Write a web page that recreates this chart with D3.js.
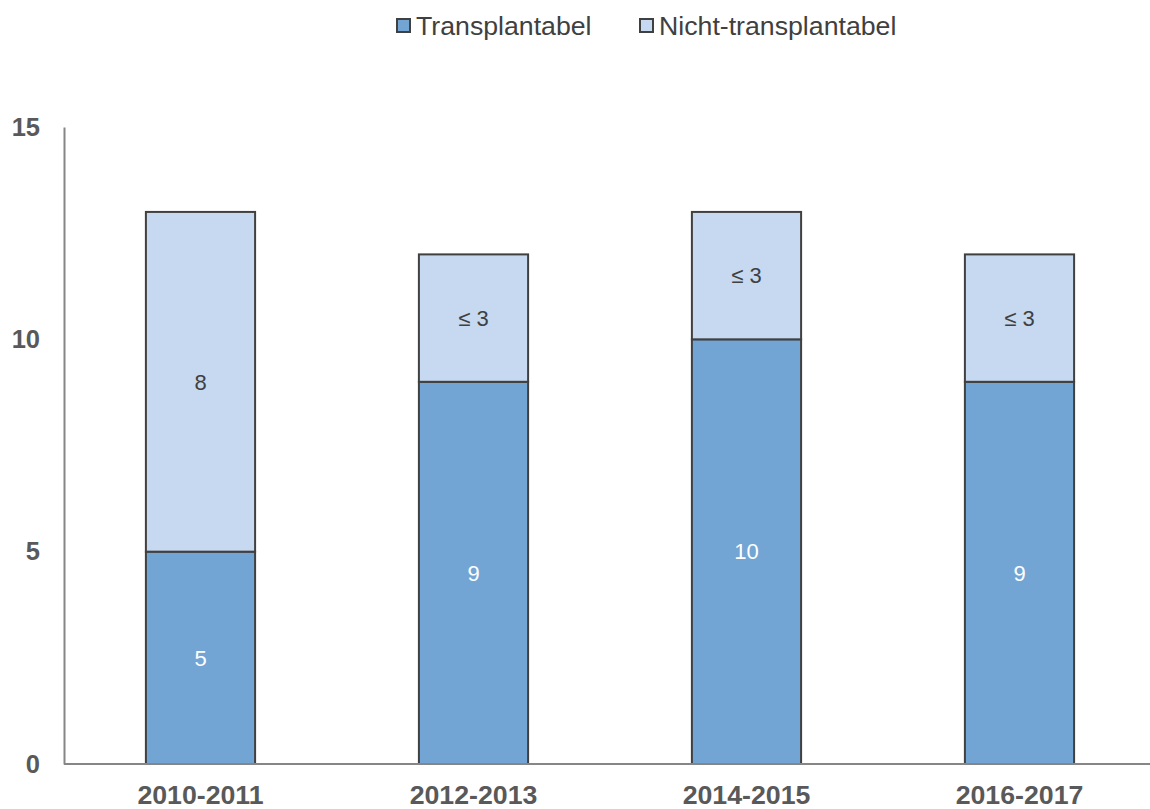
<!DOCTYPE html>
<html>
<head>
<meta charset="utf-8">
<script src="https://cdn.jsdelivr.net/npm/d3@7"></script>
<style>
  html, body { margin: 0; padding: 0; background: #fff; }
  svg { display: block; font-family: "Liberation Sans", Arial, sans-serif; }
</style>
</head>
<body>
<svg id="chart" width="1150" height="809"></svg>
<script>
const categories = ["2010-2011", "2012-2013", "2014-2015", "2016-2017"];
const seriesNames = ["Transplantabel", "Nicht-transplantabel"];
const transplantabel = [5, 9, 10, 9];
const nichtTransplantabel = [8, 3, 3, 3];
const transplantabelLabels = ["5", "9", "10", "9"];
const nichtTransplantabelLabels = ["8", "\u2264 3", "\u2264 3", "\u2264 3"];
const yTicks = [0, 5, 10, 15];

(function () {
const colors = ["#73A5D4", "#C6D9F0"];
const labelColors = ["#ffffff", "#404040"];

const svg = d3.select("#chart");
const W = 1150;
const plotLeft = 64, plotTop = 127, plotBottom = 764;

const x = d3.scaleBand().domain(categories).range([plotLeft, plotLeft + 4 * 273]).paddingInner(0.6).paddingOuter(0.3);
const y = d3.scaleLinear().domain([0, 15]).range([plotBottom, plotTop]);

const rows = categories.map((c, i) => ({
  cat: c,
  Transplantabel: transplantabel[i],
  "Nicht-transplantabel": nichtTransplantabel[i],
  labels: [transplantabelLabels[i], nichtTransplantabelLabels[i]]
}));
const stack = d3.stack().keys(seriesNames)(rows);

// bars
stack.forEach((layer, li) => {
  const g = svg.append("g");
  g.selectAll("rect").data(layer).join("rect")
    .attr("x", d => x(d.data.cat))
    .attr("width", x.bandwidth())
    .attr("y", d => y(d[1]))
    .attr("height", d => y(d[0]) - y(d[1]))
    .attr("fill", colors[li])
    .attr("stroke", "#404040")
    .attr("stroke-width", 2);
  g.selectAll("text").data(layer).join("text")
    .attr("x", d => x(d.data.cat) + x.bandwidth() / 2)
    .attr("y", d => (y(d[0]) + y(d[1])) / 2)
    .attr("dy", "0.35em")
    .attr("text-anchor", "middle")
    .attr("font-size", 22)
    .attr("fill", labelColors[li])
    .text(d => d.data.labels[li]);
});

// y axis
const yAxis = d3.axisLeft(y).tickValues(yTicks).tickSize(0).tickPadding(24).tickFormat(d3.format("d"));
const yg = svg.append("g").attr("transform", `translate(${plotLeft},0)`).call(yAxis);
yg.select(".domain").attr("stroke", "#868686").attr("stroke-width", 2);
yg.selectAll("text").attr("font-size", 25.5).attr("font-weight", "bold").attr("fill", "#595959")
  .attr("font-family", "Liberation Sans, Arial, sans-serif");

// x axis
const xAxis = d3.axisBottom(x).tickSize(0).tickPadding(21);
const xg = svg.append("g").attr("transform", `translate(0,${plotBottom})`).call(xAxis);
xg.select(".domain").remove();
xg.append("line").attr("x1", plotLeft).attr("x2", W).attr("y1", 0).attr("y2", 0)
  .attr("stroke", "#868686").attr("stroke-width", 2);
xg.selectAll("text").attr("font-size", 26.7).attr("font-weight", "bold").attr("fill", "#595959")
  .attr("font-family", "Liberation Sans, Arial, sans-serif");

// legend
const legendItems = [
  { name: seriesNames[0], color: colors[0], x: 397 },
  { name: seriesNames[1], color: colors[1], x: 640 }
];
const lg = svg.append("g");
legendItems.forEach(it => {
  lg.append("rect").attr("x", it.x).attr("y", 19).attr("width", 13).attr("height", 13)
    .attr("fill", it.color).attr("stroke", "#404040").attr("stroke-width", 2);
  lg.append("text").attr("x", it.x + 19).attr("y", 35)
    .attr("font-size", 26.7).attr("fill", "#404040").text(it.name);
});
})();
</script>
</body>
</html>
